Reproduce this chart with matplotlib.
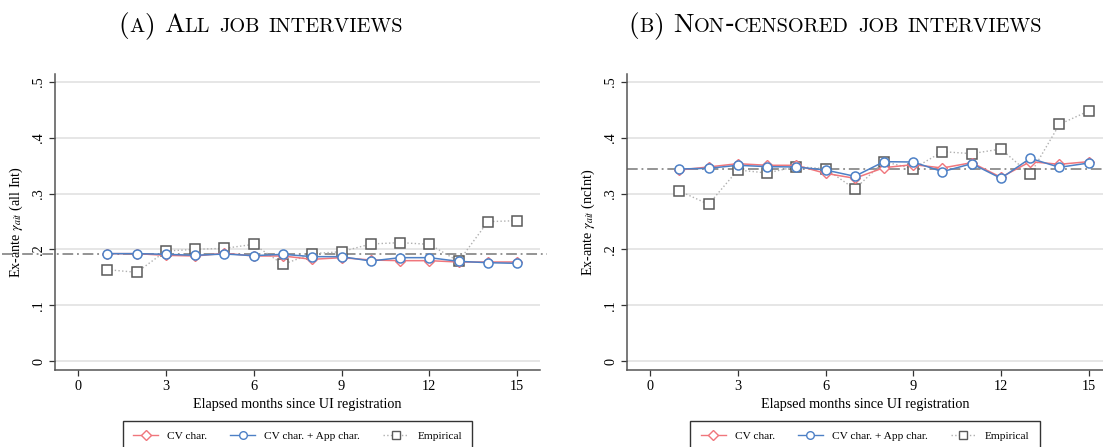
import matplotlib
matplotlib.use('Agg')
import matplotlib.pyplot as plt
from matplotlib.lines import Line2D

months = list(range(1, 16))

# (a) all job interviews
all_cv = [0.1924, 0.1924, 0.1894, 0.1882, 0.1930, 0.1882, 0.1882, 0.1822,
          0.1852, 0.1810, 0.1798, 0.1798, 0.1774, 0.1774, 0.1774]
all_cv_app = [0.1924, 0.1924, 0.1912, 0.1894, 0.1918, 0.1888, 0.1912, 0.1870,
              0.1870, 0.1792, 0.1852, 0.1852, 0.1786, 0.1762, 0.1750]
all_emp = [0.1637, 0.1589, 0.1971, 0.2001, 0.2019, 0.2091, 0.1732, 0.1924,
           0.1959, 0.2097, 0.2121, 0.2091, 0.1786, 0.2497, 0.2515]
all_mean = 0.1925

# (b) non-censored job interviews
nc_cv = [0.3423, 0.3477, 0.3536, 0.3507, 0.3507, 0.3363, 0.3274, 0.3465,
         0.3519, 0.3459, 0.3554, 0.3292, 0.3572, 0.3525, 0.3572]
nc_cv_app = [0.3441, 0.3453, 0.3507, 0.3483, 0.3477, 0.3423, 0.3310, 0.3572,
             0.3566, 0.3393, 0.3536, 0.3274, 0.3632, 0.3471, 0.3548]
nc_emp = [0.3047, 0.2808, 0.3423, 0.3369, 0.3483, 0.3447, 0.3082, 0.3572,
          0.3447, 0.3751, 0.3716, 0.3799, 0.3345, 0.4241, 0.4480]
nc_mean = 0.344

yticks = [0, 0.1, 0.2, 0.3, 0.4, 0.5]
ytick_labels = ['0', '.1', '.2', '.3', '.4', '.5']
xticks = [0, 3, 6, 9, 12, 15]

RED = '#f0767c'
BLUE = '#4d80c6'
SQ = '#5a5a5a'
EMP_LINE = '#b0b0b0'
SPINE = '#555555'

plt.rcParams['font.family'] = ['Liberation Serif', 'DejaVu Serif']
plt.rcParams['mathtext.fontset'] = 'stix'

W, H = 1103, 447
fig = plt.figure(figsize=(W / 100, H / 100), dpi=100)


def panel(left, right, xmax, cv, cv_app, emp, mean, ylabel, hl_ext):
    ax = fig.add_axes([left / W, (H - 370) / H, (right - left) / W, (370 - 74) / H])
    ax.set_xlim(-0.79, xmax)
    ax.set_ylim(-0.0161, 0.5143)
    ax.set_yticks(yticks)
    ax.set_yticklabels(ytick_labels, rotation=90, va='center')
    ax.set_xticks(xticks)
    ax.grid(axis='y', color='#e4e4e4', linewidth=1.3, zorder=0)
    ax.set_axisbelow(True)
    for s in ['top', 'right']:
        ax.spines[s].set_visible(False)
    for s in ['left', 'bottom']:
        ax.spines[s].set_color(SPINE)
        ax.spines[s].set_linewidth(1.1)
    ax.tick_params(direction='out', length=4, width=0.9, color='#333333',
                   labelsize=10.3, pad=3)
    ax.axhline(mean, xmin=hl_ext[0], xmax=hl_ext[1], color='#777777',
               linewidth=1.1, dashes=(7, 2.5, 1.2, 2.5), clip_on=False, zorder=2)
    ax.plot(months, emp, color=EMP_LINE, linestyle=':', linewidth=1.0,
            marker='s', markersize=6.5, markerfacecolor='white',
            markeredgecolor=SQ, markeredgewidth=1.1, zorder=3)
    ax.plot(months, cv, color=RED, linewidth=1.1, marker='D', markersize=5.5,
            markerfacecolor='white', markeredgecolor=RED, markeredgewidth=1.0, zorder=4)
    ax.plot(months, cv_app, color=BLUE, linewidth=1.1, marker='o', markersize=6.5,
            markerfacecolor='white', markeredgecolor=BLUE, markeredgewidth=1.1, zorder=5)
    ax.set_xlabel('Elapsed months since UI registration', fontsize=10.2, labelpad=4)
    ax.set_ylabel(ylabel, fontsize=10.2, labelpad=5)

    handles = [
        Line2D([], [], color=RED, linewidth=1.0, marker='D', markersize=5,
               markerfacecolor='white', markeredgecolor=RED),
        Line2D([], [], color=BLUE, linewidth=1.0, marker='o', markersize=5.5,
               markerfacecolor='white', markeredgecolor=BLUE),
        Line2D([], [], color=EMP_LINE, linestyle=':', linewidth=1.0, marker='s',
               markersize=5.5, markerfacecolor='white', markeredgecolor=SQ),
    ]
    leg = fig.legend(handles, ['CV char.', 'CV char. + App char.', 'Empirical'],
                     loc='upper center', bbox_to_anchor=((left + right) / 2 / W, (H - 421) / H),
                     ncol=3, fontsize=8.2, frameon=True, fancybox=False,
                     edgecolor='black', handlelength=2.2, handletextpad=0.8,
                     columnspacing=2.0, borderpad=0.9, borderaxespad=0)
    leg.get_frame().set_linewidth(1.0)
    return ax


panel(55, 540, 15.78, all_cv, all_cv_app, all_emp, all_mean,
      r'Ex-ante $\gamma_{ait}$ (all Int)', (-0.11, 1.015))
panel(627, 1103, 15.49, nc_cv, nc_cv_app, nc_emp, nc_mean,
      r'Ex-ante $\gamma_{ait}$ (ncInt)', (0.0, 1.0))


def smallcaps_title(cx, base_y, s, big=19.8, small=14.6):
    # split into runs: uppercase / punctuation big, lowercase letters small
    # the hyphen is taken from a normal serif font (cmr10 maps it oddly)
    runs = []
    for ch in s:
        if ch == ' ':
            runs.append((' ', None))
            continue
        if ch == '-':
            runs.append(('-', 'hyphen'))
            continue
        size = small if ch.islower() else big
        if runs and runs[-1][1] == size:
            runs[-1] = (runs[-1][0] + ch.upper(), size)
        else:
            runs.append((ch.upper(), size))
    texts = []
    for txt, size in runs:
        if size is None:
            texts.append(None)
        elif size == 'hyphen':
            texts.append(fig.text(0, base_y, txt, fontsize=big, family='DejaVu Serif',
                                  fontweight='light', va='baseline', ha='left'))
        else:
            texts.append(fig.text(0, base_y, txt, fontsize=size, family='cmr10',
                                  va='baseline', ha='left'))
    r = fig.canvas.get_renderer()
    space = big * 100 / 72 * 0.33
    widths = []
    for t in texts:
        widths.append(space if t is None else t.get_window_extent(r).width)
    x = cx - sum(widths) / 2
    for t, w in zip(texts, widths):
        if t is not None:
            t.set_x(x / W)
        x += w


smallcaps_title(261, 1 - 32 / H, '(a) All job interviews')
smallcaps_title(835, 1 - 32 / H, '(b) Non-censored job interviews')

fig.savefig('out.png', dpi=100)
